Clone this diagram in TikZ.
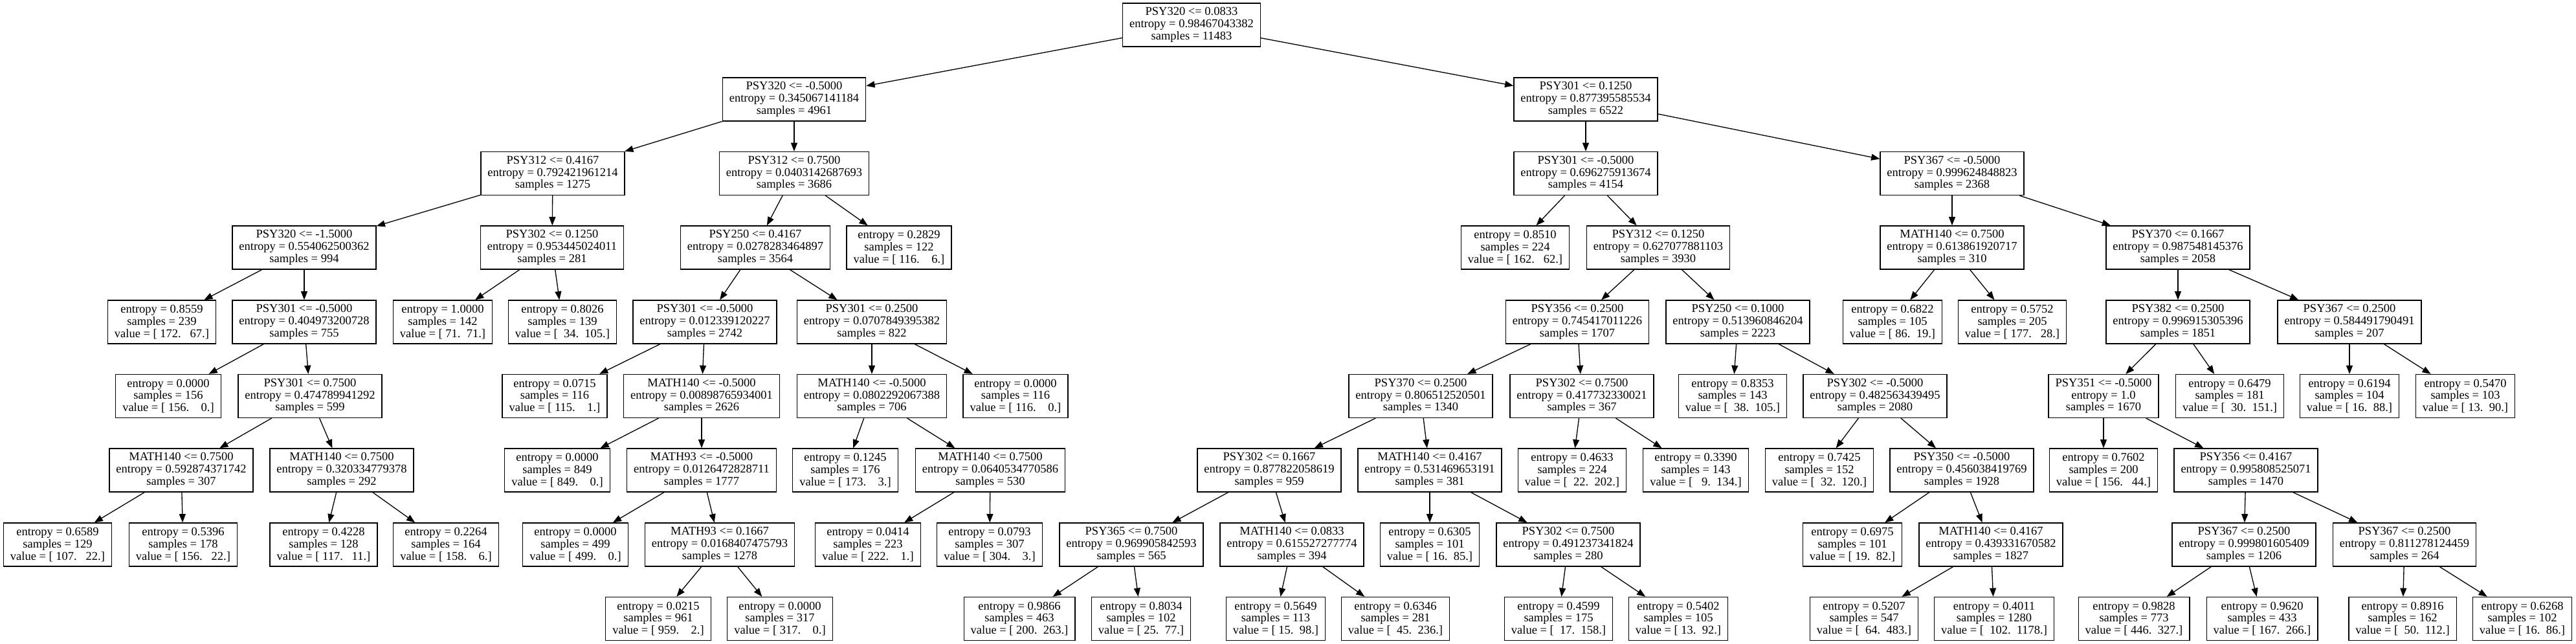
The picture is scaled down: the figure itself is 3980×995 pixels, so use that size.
\documentclass[tikz,border=0pt]{standalone}
\usepackage{fontspec}
\setmainfont{Liberation Serif}
\usetikzlibrary{arrows.meta}
\tikzset{
  box/.style={draw, line width=0.66pt, rectangle, align=center,
    font=\fontsize{9.25pt}{9.4pt}\selectfont, inner xsep=5.25pt, inner ysep=0pt,
    minimum height=33.5pt},
  edge/.style={line width=0.66pt, -{Triangle[length=6.6pt,width=5pt]}}
}
\newcommand{\IN}[3]{#1\\entropy = #2\\samples = #3}
\newcommand{\LF}[3]{entropy = #1\\samples = #2\\value = #3}
\begin{document}
\begin{tikzpicture}[x=0.5pt,y=-0.5pt]
\useasboundingbox (0,0) rectangle (3980,995);
% L0
\node[box] (r) at (1841,38.5) {\IN{PSY320 <= 0.0833}{0.98467043382}{11483}};
% L1
\node[box] (a) at (1227,153.5) {\IN{PSY320 <= -0.5000}{0.345067141184}{4961}};
\node[box] (b) at (2450,153.5) {\IN{PSY301 <= 0.1250}{0.877395585534}{6522}};
% L2
\node[box] (aa) at (854,268) {\IN{PSY312 <= 0.4167}{0.792421961214}{1275}};
\node[box] (ab) at (1227,268) {\IN{PSY312 <= 0.7500}{0.0403142687693}{3686}};
\node[box] (ba) at (2450,268) {\IN{PSY301 <= -0.5000}{0.696275913674}{4154}};
\node[box] (bb) at (3016,268) {\IN{PSY367 <= -0.5000}{0.999624848823}{2368}};
% L3
\node[box] (aaa) at (470,382.5) {\IN{PSY320 <= -1.5000}{0.554062500362}{994}};
\node[box] (aab) at (853,382.5) {\IN{PSY302 <= 0.1250}{0.953445024011}{281}};
\node[box] (aba) at (1167,382.5) {\IN{PSY250 <= 0.4167}{0.0278283464897}{3564}};
\node[box] (abb) at (1389,382.5) {\LF{0.2829}{122}{[\ 116.\ \ \ \ 6.]}};
\node[box] (baa) at (2341,382.5) {\LF{0.8510}{224}{[\ 162.\ \ \ 62.]}};
\node[box] (bab) at (2562,382.5) {\IN{PSY312 <= 0.1250}{0.627077881103}{3930}};
\node[box] (bba) at (3016,382.5) {\IN{MATH140 <= 0.7500}{0.613861920717}{310}};
\node[box] (bbb) at (3365,382.5) {\IN{PSY370 <= 0.1667}{0.987548145376}{2058}};
% L4
\node[box] (aaaa) at (250,497.5) {\LF{0.8559}{239}{[\ 172.\ \ \ 67.]}};
\node[box] (aaab) at (470,497.5) {\IN{PSY301 <= -0.5000}{0.404973200728}{755}};
\node[box] (aaba) at (684,497.5) {\LF{1.0000}{142}{[\ 71.\ \ 71.]}};
\node[box] (aabb) at (869,497.5) {\LF{0.8026}{139}{[\ \ 34.\ \ 105.]}};
\node[box] (abaa) at (1089,497.5) {\IN{PSY301 <= -0.5000}{0.012339120227}{2742}};
\node[box] (abab) at (1347,497.5) {\IN{PSY301 <= 0.2500}{0.0707849395382}{822}};
\node[box] (baba) at (2437,497.5) {\IN{PSY356 <= 0.2500}{0.745417011226}{1707}};
\node[box] (babb) at (2685,497.5) {\IN{PSY250 <= 0.1000}{0.513960846204}{2223}};
\node[box] (bbaa) at (2924,497.5) {\LF{0.6822}{105}{[\ 86.\ \ 19.]}};
\node[box] (bbab) at (3109,497.5) {\LF{0.5752}{205}{[\ 177.\ \ \ 28.]}};
\node[box] (bbba) at (3365,497.5) {\IN{PSY382 <= 0.2500}{0.996915305396}{1851}};
\node[box] (bbbb) at (3630,497.5) {\IN{PSY367 <= 0.2500}{0.584491790491}{207}};
% L5
\node[box] (aaaba) at (260,612) {\LF{0.0000}{156}{[\ 156.\ \ \ \ 0.]}};
\node[box] (aaabb) at (479,612) {\IN{PSY301 <= 0.7500}{0.474789941292}{599}};
\node[box] (abaaa) at (857,612) {\LF{0.0715}{116}{[\ 115.\ \ \ \ 1.]}};
\node[box] (abaab) at (1084,612) {\IN{MATH140 <= -0.5000}{0.00898765934001}{2626}};
\node[box] (ababa) at (1347,612) {\IN{MATH140 <= -0.5000}{0.0802292067388}{706}};
\node[box] (ababb) at (1569,612) {\LF{0.0000}{116}{[\ 116.\ \ \ \ 0.]}};
\node[box] (babaa) at (2195,612) {\IN{PSY370 <= 0.2500}{0.806512520501}{1340}};
\node[box] (babab) at (2444,612) {\IN{PSY302 <= 0.7500}{0.417732330021}{367}};
\node[box] (babba) at (2677,612) {\LF{0.8353}{143}{[\ \ 38.\ \ 105.]}};
\node[box] (babbb) at (2897,612) {\IN{PSY302 <= -0.5000}{0.482563439495}{2080}};
\node[box] (bbbaa) at (3250,612) {\IN{PSY351 <= -0.5000}{1.0}{1670}};
\node[box] (bbbab) at (3445,612) {\LF{0.6479}{181}{[\ \ 30.\ \ 151.]}};
\node[box] (bbbba) at (3630,612) {\LF{0.6194}{104}{[\ 16.\ \ 88.]}};
\node[box] (bbbbb) at (3809,612) {\LF{0.5470}{103}{[\ 13.\ \ 90.]}};
% L6
\node[box] (aaabba) at (280,726.5) {\IN{MATH140 <= 0.7500}{0.592874371742}{307}};
\node[box] (aaabbb) at (528,726.5) {\IN{MATH140 <= 0.7500}{0.320334779378}{292}};
\node[box] (abaaba) at (861,726.5) {\LF{0.0000}{849}{[\ 849.\ \ \ \ 0.]}};
\node[box] (abaabb) at (1084,726.5) {\IN{MATH93 <= -0.5000}{0.0126472828711}{1777}};
\node[box] (ababaa) at (1306,726.5) {\LF{0.1245}{176}{[\ 173.\ \ \ \ 3.]}};
\node[box] (ababab) at (1530,726.5) {\IN{MATH140 <= 0.7500}{0.0640534770586}{530}};
\node[box] (babaaa) at (1961,726.5) {\IN{PSY302 <= 0.1667}{0.877822058619}{959}};
\node[box] (babaab) at (2209,726.5) {\IN{MATH140 <= 0.4167}{0.531469653191}{381}};
\node[box] (bababa) at (2429,726.5) {\LF{0.4633}{224}{[\ \ 22.\ \ 202.]}};
\node[box] (bababb) at (2620,726.5) {\LF{0.3390}{143}{[\ \ \ 9.\ \ 134.]}};
\node[box] (babbba) at (2811,726.5) {\LF{0.7425}{152}{[\ \ 32.\ \ 120.]}};
\node[box] (babbbb) at (3031,726.5) {\IN{PSY350 <= -0.5000}{0.456038419769}{1928}};
\node[box] (bbbaaa) at (3250,726.5) {\LF{0.7602}{200}{[\ 156.\ \ \ 44.]}};
\node[box] (bbbaab) at (3470,726.5) {\IN{PSY356 <= 0.4167}{0.995808525071}{1470}};
% L7
\node[box] (aaabbaa) at (89,841.5) {\LF{0.6589}{129}{[\ 107.\ \ \ 22.]}};
\node[box] (aaabbab) at (283,841.5) {\LF{0.5396}{178}{[\ 156.\ \ \ 22.]}};
\node[box] (aaabbba) at (500,841.5) {\LF{0.4228}{128}{[\ 117.\ \ \ 11.]}};
\node[box] (aaabbbb) at (689,841.5) {\LF{0.2264}{164}{[\ 158.\ \ \ \ 6.]}};
\node[box] (abaabba) at (889,841.5) {\LF{0.0000}{499}{[\ 499.\ \ \ \ 0.]}};
\node[box] (abaabbb) at (1112,841.5) {\IN{MATH93 <= 0.1667}{0.0168407475793}{1278}};
\node[box] (ababaaX) at (1341,841.5) {\LF{0.0414}{223}{[\ 222.\ \ \ \ 1.]}};
\node[box] (abababb) at (1529,841.5) {\LF{0.0793}{307}{[\ 304.\ \ \ \ 3.]}};
\node[box] (babaaaa) at (1748,841.5) {\IN{PSY365 <= 0.7500}{0.969905842593}{565}};
\node[box] (babaaab) at (1996,841.5) {\IN{MATH140 <= 0.0833}{0.615527277774}{394}};
\node[box] (babaaba) at (2209,841.5) {\LF{0.6305}{101}{[\ 16.\ \ 85.]}};
\node[box] (babaabb) at (2423,841.5) {\IN{PSY302 <= 0.7500}{0.491237341824}{280}};
\node[box] (babbbba) at (2862,841.5) {\LF{0.6975}{101}{[\ 19.\ \ 82.]}};
\node[box] (babbbbb) at (3076,841.5) {\IN{MATH140 <= 0.4167}{0.439331670582}{1827}};
\node[box] (bbbaaba) at (3467,841.5) {\IN{PSY367 <= 0.2500}{0.999801605409}{1206}};
\node[box] (bbbaabb) at (3715,841.5) {\IN{PSY367 <= 0.2500}{0.811278124459}{264}};
% L8
\node[box] (abaabbba) at (1017,956) {\LF{0.0215}{961}{[\ 959.\ \ \ \ 2.]}};
\node[box] (abaabbbb) at (1205,956) {\LF{0.0000}{317}{[\ 317.\ \ \ \ 0.]}};
\node[box] (babaaaaa) at (1575,956) {\LF{0.9866}{463}{[\ 200.\ \ 263.]}};
\node[box] (babaaaab) at (1763,956) {\LF{0.8034}{102}{[\ 25.\ \ 77.]}};
\node[box] (babaaaba) at (1971,956) {\LF{0.5649}{113}{[\ 15.\ \ 98.]}};
\node[box] (babaaabb) at (2156,956) {\LF{0.6346}{281}{[\ \ 45.\ \ 236.]}};
\node[box] (babaabba) at (2408,956) {\LF{0.4599}{175}{[\ \ 17.\ \ 158.]}};
\node[box] (babaabbb) at (2593,956) {\LF{0.5402}{105}{[\ 13.\ \ 92.]}};
\node[box] (babbbbba) at (2880,956) {\LF{0.5207}{547}{[\ \ 64.\ \ 483.]}};
\node[box] (babbbbbb) at (3081,956) {\LF{0.4011}{1280}{[\ \ 102.\ \ 1178.]}};
\node[box] (bbbaabaa) at (3297,956) {\LF{0.9828}{773}{[\ 446.\ \ 327.]}};
\node[box] (bbbaabab) at (3495,956) {\LF{0.9620}{433}{[\ 167.\ \ 266.]}};
\node[box] (bbbaabba) at (3712,956) {\LF{0.8916}{162}{[\ \ 50.\ \ 112.]}};
\node[box] (bbbaabbb) at (3897,956) {\LF{0.6268}{102}{[\ 16.\ \ 86.]}};
% edges
\foreach \p/\c in {r/a, r/b, a/aa, a/ab, b/ba, b/bb,
  aa/aaa, aa/aab, ab/aba, ab/abb, ba/baa, ba/bab, bb/bba, bb/bbb,
  aaa/aaaa, aaa/aaab, aab/aaba, aab/aabb, aba/abaa, aba/abab,
  bab/baba, bab/babb, bba/bbaa, bba/bbab, bbb/bbba, bbb/bbbb,
  aaab/aaaba, aaab/aaabb, abaa/abaaa, abaa/abaab, abab/ababa, abab/ababb,
  baba/babaa, baba/babab, babb/babba, babb/babbb, bbba/bbbaa, bbba/bbbab,
  bbbb/bbbba, bbbb/bbbbb,
  aaabb/aaabba, aaabb/aaabbb, abaab/abaaba, abaab/abaabb, ababa/ababaa, ababa/ababab,
  babaa/babaaa, babaa/babaab, babab/bababa, babab/bababb, babbb/babbba, babbb/babbbb,
  bbbaa/bbbaaa, bbbaa/bbbaab,
  aaabba/aaabbaa, aaabba/aaabbab, aaabbb/aaabbba, aaabbb/aaabbbb,
  abaabb/abaabba, abaabb/abaabbb, ababab/ababaaX, ababab/abababb,
  babaaa/babaaaa, babaaa/babaaab, babaab/babaaba, babaab/babaabb,
  babbbb/babbbba, babbbb/babbbbb, bbbaab/bbbaaba, bbbaab/bbbaabb,
  abaabbb/abaabbba, abaabbb/abaabbbb, babaaaa/babaaaaa, babaaaa/babaaaab,
  babaaab/babaaaba, babaaab/babaaabb, babaabb/babaabba, babaabb/babaabbb,
  babbbbb/babbbbba, babbbbb/babbbbbb, bbbaaba/bbbaabaa, bbbaaba/bbbaabab,
  bbbaabb/bbbaabba, bbbaabb/bbbaabbb}
  \draw[edge] (\p) -- (\c);
\end{tikzpicture}
\end{document}
